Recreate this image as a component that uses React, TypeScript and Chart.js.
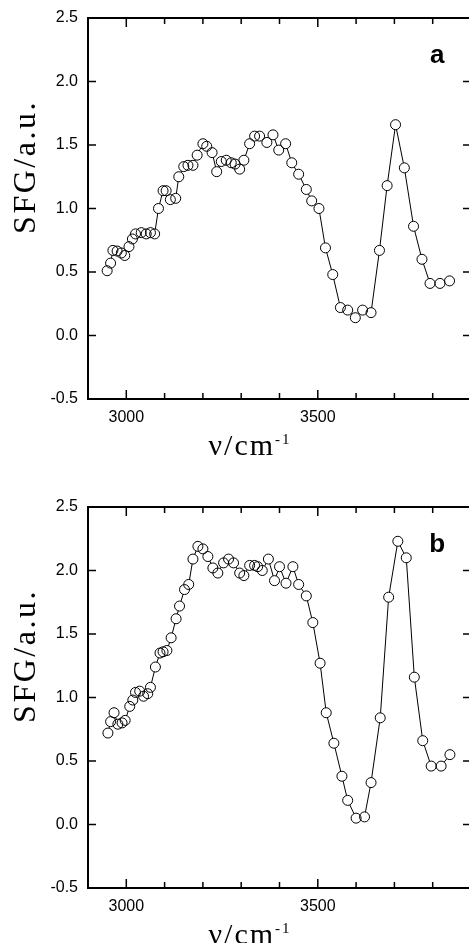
import React, { useEffect, useRef } from "react";
import { Chart, registerables } from "chart.js";

Chart.register(...registerables);

// ---- data ----
const waveA = [2950, 2959, 2965, 2976, 2987, 2996, 3007, 3016, 3024, 3039, 3052, 3063, 3074, 3084, 3096, 3104, 3115, 3129, 3137, 3150, 3161, 3174, 3185, 3200, 3210, 3224, 3236, 3248, 3261, 3274, 3284, 3296, 3307, 3322, 3335, 3348, 3367, 3383, 3398, 3416, 3432, 3450, 3470, 3484, 3503, 3520, 3539, 3559, 3578, 3598, 3617, 3639, 3661, 3681, 3703, 3726, 3750, 3772, 3793, 3819, 3844];
const sfgA = [0.51, 0.57, 0.67, 0.665, 0.65, 0.63, 0.70, 0.76, 0.80, 0.81, 0.80, 0.81, 0.80, 1.00, 1.14, 1.14, 1.07, 1.08, 1.25, 1.33, 1.34, 1.34, 1.42, 1.51, 1.49, 1.44, 1.29, 1.37, 1.38, 1.36, 1.35, 1.31, 1.38, 1.51, 1.57, 1.57, 1.52, 1.58, 1.46, 1.51, 1.36, 1.27, 1.15, 1.06, 1.00, 0.69, 0.48, 0.22, 0.20, 0.14, 0.20, 0.18, 0.67, 1.18, 1.66, 1.32, 0.86, 0.60, 0.41, 0.41, 0.43];

const waveB = [2952, 2959, 2968, 2978, 2989, 2997, 3009, 3017, 3024, 3035, 3045, 3056, 3063, 3076, 3088, 3096, 3106, 3117, 3130, 3139, 3152, 3163, 3174, 3187, 3200, 3213, 3226, 3239, 3254, 3267, 3280, 3296, 3307, 3322, 3335, 3343, 3355, 3371, 3387, 3400, 3417, 3435, 3450, 3470, 3487, 3506, 3522, 3542, 3563, 3578, 3600, 3622, 3639, 3663, 3685, 3709, 3731, 3752, 3774, 3796, 3822, 3845];
const sfgB = [0.72, 0.81, 0.88, 0.79, 0.80, 0.82, 0.93, 0.98, 1.04, 1.05, 1.01, 1.03, 1.08, 1.24, 1.35, 1.36, 1.37, 1.47, 1.62, 1.72, 1.85, 1.89, 2.09, 2.19, 2.17, 2.11, 2.02, 1.98, 2.06, 2.09, 2.06, 1.98, 1.96, 2.04, 2.04, 2.03, 2.00, 2.09, 1.92, 2.03, 1.90, 2.03, 1.89, 1.80, 1.59, 1.27, 0.88, 0.64, 0.38, 0.19, 0.05, 0.06, 0.33, 0.84, 1.79, 2.23, 2.10, 1.16, 0.66, 0.46, 0.46, 0.55];

const xTickValues = [2900, 3000, 3100, 3200, 3300, 3400, 3500, 3600, 3700, 3800, 3900];
const xLabelTicks = [3000, 3500];
const yTickValues = [-0.5, 0, 0.5, 1.0, 1.5, 2.0, 2.5];

const xTitle = "ν/cm";
const xTitleSup = "-1";
const yTitle = "SFG/a.u.";

const SANS = '"Liberation Sans", Arial, Helvetica, sans-serif';
const SERIF = '"Liberation Serif", "Times New Roman", serif';

function makePlugin(letter: string) {
  return {
    id: "frameDeco",
    afterDraw(chart: any) {
      const { ctx, chartArea: a, scales } = chart;
      const x = scales.x;
      const y = scales.y;
      ctx.save();
      ctx.strokeStyle = "#000";
      ctx.fillStyle = "#000";
      ctx.lineWidth = 2;
      ctx.strokeRect(a.left, a.top, a.right - a.left, a.bottom - a.top);
      ctx.lineWidth = 1.5;
      ctx.beginPath();
      for (const t of xTickValues) {
        if (t <= x.min || t >= x.max) continue;
        const px = x.getPixelForValue(t);
        const len = xLabelTicks.includes(t) ? 9 : 6;
        ctx.moveTo(px, a.bottom);
        ctx.lineTo(px, a.bottom - len);
        ctx.moveTo(px, a.top);
        ctx.lineTo(px, a.top + len);
      }
      for (const t of yTickValues) {
        if (t <= y.min || t >= y.max) continue;
        const py = y.getPixelForValue(t);
        ctx.moveTo(a.left, py);
        ctx.lineTo(a.left + 8, py);
        ctx.moveTo(a.right, py);
        ctx.lineTo(a.right - 8, py);
      }
      ctx.stroke();

      // panel letter
      ctx.font = `bold 26px ${SANS}`;
      ctx.textAlign = "center";
      ctx.textBaseline = "middle";
      ctx.fillText(letter, x.getPixelForValue(3812), y.getPixelForValue(2.2));

      // x title
      (ctx as any).letterSpacing = "2px";
      ctx.font = `30px ${SERIF}`;
      const w1 = ctx.measureText(xTitle).width;
      ctx.font = `15px ${SERIF}`;
      const w2 = ctx.measureText(xTitleSup).width;
      const cx = 250;
      const by = a.bottom + 56;
      const sx = cx - (w1 + w2) / 2;
      ctx.textAlign = "left";
      ctx.textBaseline = "alphabetic";
      ctx.font = `30px ${SERIF}`;
      ctx.fillText(xTitle, sx, by);
      ctx.font = `15px ${SERIF}`;
      ctx.fillText(xTitleSup, sx + w1, by - 11);

      // y title
      (ctx as any).letterSpacing = "2.5px";
      ctx.font = `32px ${SERIF}`;
      ctx.translate(27, a.top + 149);
      ctx.rotate(-Math.PI / 2);
      ctx.textAlign = "center";
      ctx.textBaseline = "middle";
      ctx.fillText(yTitle, 0, 0);
      ctx.restore();
    },
  };
}

type PanelProps = {
  waves: number[];
  values: number[];
  letter: string;
  top: number;
  height: number;
  padTop: number;
  axisHeight: number;
};

function Panel({ waves, values, letter, top, height, padTop, axisHeight }: PanelProps) {
  const ref = useRef<HTMLCanvasElement | null>(null);
  useEffect(() => {
    if (!ref.current) return;
    const pts = waves.map((w, i) => ({ x: w, y: values[i] }));
    const chart = new Chart(ref.current, {
      type: "line",
      data: {
        datasets: [
          {
            data: pts,
            showLine: false,
            pointRadius: 5,
            pointBackgroundColor: "rgba(0,0,0,0)",
            pointBorderColor: "#000",
            pointBorderWidth: 1,
            order: 0,
          },
          {
            data: pts,
            borderColor: "#000",
            borderWidth: 1,
            tension: 0,
            pointRadius: 5,
            pointBackgroundColor: "#fff",
            pointBorderWidth: 0,
            pointBorderColor: "#fff",
            order: 1,
          },
        ],
      },
      options: {
        responsive: false,
        animation: false,
        events: [],
        layout: { autoPadding: false, padding: { top: padTop, right: 1, left: 0, bottom: 0 } },
        plugins: { legend: { display: false }, tooltip: { enabled: false }, title: { display: false } },
        scales: {
          x: {
            type: "linear",
            min: 2900,
            max: 3900,
            grid: { display: false, drawTicks: false },
            border: { display: false },
            afterFit: (s: any) => {
              s.height = axisHeight;
              s.paddingLeft = 0;
              s.paddingRight = 0;
            },
            afterBuildTicks: (s: any) => {
              s.ticks = xTickValues.map((v) => ({ value: v }));
            },
            ticks: {
              autoSkip: false,
              maxRotation: 0,
              padding: 9,
              color: "#000",
              font: { family: SANS, size: 16 },
              callback: (v: any) => (xLabelTicks.includes(Number(v)) ? String(v) : ""),
            },
          },
          y: {
            type: "linear",
            min: -0.5,
            max: 2.5,
            grid: { display: false, drawTicks: false },
            border: { display: false },
            afterFit: (s: any) => {
              s.width = 88;
              s.paddingTop = 0;
              s.paddingBottom = 0;
            },
            afterBuildTicks: (s: any) => {
              s.ticks = yTickValues.map((v) => ({ value: v }));
            },
            ticks: {
              padding: 10,
              color: "#000",
              font: { family: SANS, size: 16 },
              callback: (v: any) => Number(v).toFixed(1),
            },
          },
        },
      },
      plugins: [makePlugin(letter)],
    } as any);
    return () => chart.destroy();
  }, [waves, values, letter, padTop, axisHeight]);

  return (
    <canvas
      ref={ref}
      width={472}
      height={height}
      style={{ position: "absolute", left: 0, top, width: 472, height }}
    />
  );
}

export default function App() {
  return (
    <div
      style={{
        position: "absolute",
        left: 0,
        top: 0,
        width: 469,
        height: 943,
        overflow: "hidden",
        background: "#fff",
      }}
    >
      <Panel waves={waveA} values={sfgA} letter="a" top={0} height={470} padTop={18} axisHeight={71} />
      <Panel waves={waveB} values={sfgB} letter="b" top={470} height={473} padTop={37} axisHeight={55} />
    </div>
  );
}
